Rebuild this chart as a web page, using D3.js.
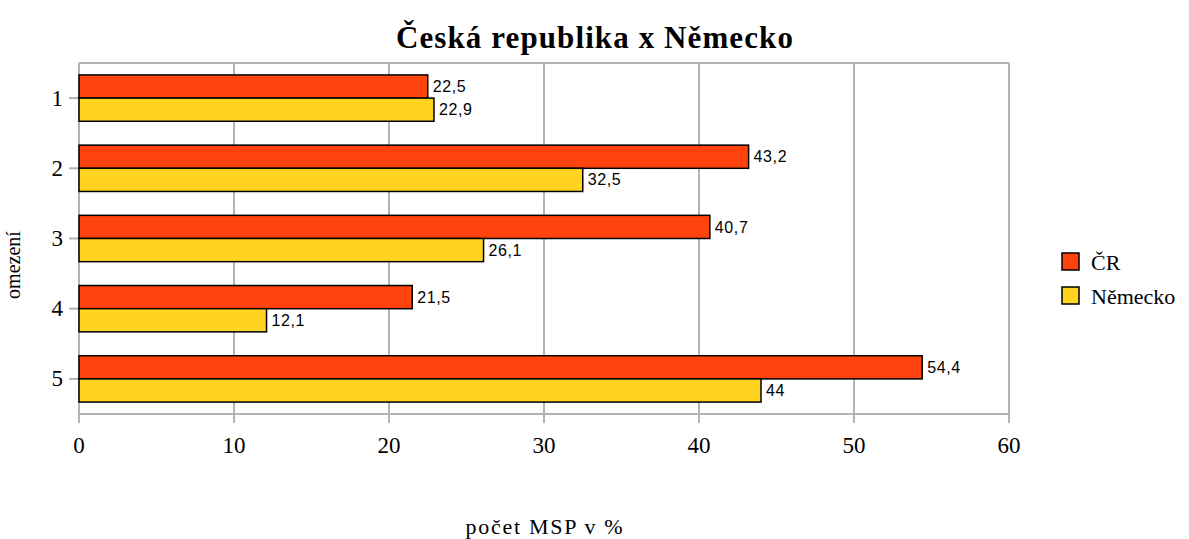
<!DOCTYPE html>
<html><head><meta charset="utf-8">
<script src="https://cdn.jsdelivr.net/npm/d3@7"></script>
<style>body{margin:0;background:#fff}svg{display:block}</style>
</head><body><svg id="c" width="1189" height="539"></svg>
<script>
const categories = ["1","2","3","4","5"];
const seriesNames = ["ČR","Německo"];
const crValues = [22.5, 43.2, 40.7, 21.5, 54.4];
const deValues = [22.9, 32.5, 26.1, 12.1, 44];
const xTicks = [0,10,20,30,40,50,60];
const colors = ["#ff420e","#ffd320"];
const titleText = "Česká republika x Německo";
const xTitle = "počet MSP v %";
const yTitle = "omezení";

const svg = d3.select("#c");
const L=79, R=1009, T=63, B=414;
const serif = "Liberation Serif, Times New Roman, serif";
const x = d3.scaleLinear().domain([0,60]).range([L,R]);
const y = d3.scaleBand().domain(categories).range([T,B]).paddingInner(0.34).paddingOuter(0.17);
const sub = d3.scaleBand().domain(seriesNames).range([0,y.bandwidth()]);
const grid="#b3b3b3";

// gridlines
svg.append("g").selectAll("line").data(xTicks).join("line")
  .attr("x1",d=>x(d)).attr("x2",d=>x(d)).attr("y1",T).attr("y2",B+9)
  .attr("stroke",grid).attr("stroke-width",2);
svg.append("line").attr("x1",L).attr("x2",R).attr("y1",T).attr("y2",T).attr("stroke",grid).attr("stroke-width",2);
svg.append("line").attr("x1",L).attr("x2",R).attr("y1",B).attr("y2",B).attr("stroke",grid).attr("stroke-width",2);
// y ticks
svg.append("g").selectAll("line").data(categories).join("line")
  .attr("x1",L-10).attr("x2",L).attr("y1",d=>y(d)+y.bandwidth()/2).attr("y2",d=>y(d)+y.bandwidth()/2)
  .attr("stroke",grid).attr("stroke-width",2);

// bars
const series = [crValues, deValues];
series.forEach((vals,si)=>{
  const g = svg.append("g");
  g.selectAll("rect").data(vals).join("rect")
    .attr("x",x(0)).attr("y",(d,i)=>y(categories[i])+sub(seriesNames[si]))
    .attr("width",d=>x(d)-x(0)).attr("height",sub.bandwidth())
    .attr("fill",colors[si]).attr("stroke","#000").attr("stroke-width",1.5);
  g.selectAll("text").data(vals).join("text")
    .attr("x",d=>x(d)+5).attr("y",(d,i)=>y(categories[i])+sub(seriesNames[si])+sub.bandwidth()/2)
    .attr("dy","0.35em").attr("font-family","Liberation Sans, Arial, sans-serif").attr("font-size",16)
    .attr("letter-spacing",0.6)
    .text(d=>String(d).replace(".",","));
});

// axis labels
svg.append("g").selectAll("text").data(xTicks).join("text")
  .attr("x",d=>x(d)).attr("y",453).attr("text-anchor","middle")
  .attr("font-family",serif).attr("font-size",23).text(d=>d);
svg.append("g").selectAll("text").data(categories).join("text")
  .attr("x",L-16).attr("y",d=>y(d)+y.bandwidth()/2).attr("dy","0.33em").attr("text-anchor","end")
  .attr("font-family",serif).attr("font-size",23).text(d=>d);

svg.append("text").attr("x",595).attr("y",48).attr("text-anchor","middle")
  .attr("font-family",serif).attr("font-weight","bold").attr("font-size",31).attr("letter-spacing",1.1).text(titleText);
svg.append("text").attr("x",545).attr("y",534).attr("text-anchor","middle")
  .attr("font-family",serif).attr("font-size",22).attr("letter-spacing",1.7).text(xTitle);
svg.append("text").attr("transform","translate(20,265) rotate(-90)").attr("text-anchor","middle")
  .attr("font-family",serif).attr("font-size",20).text(yTitle);

// legend
const lg = svg.append("g");
seriesNames.forEach((n,i)=>{
  const yy = 253 + i*34;
  lg.append("rect").attr("x",1062).attr("y",yy).attr("width",17).attr("height",17)
    .attr("fill",colors[i]).attr("stroke","#000").attr("stroke-width",1.5);
  lg.append("text").attr("x",1091).attr("y",yy+9).attr("dy","0.35em")
    .attr("font-family",serif).attr("font-size",22).text(n);
});
</script></body></html>
